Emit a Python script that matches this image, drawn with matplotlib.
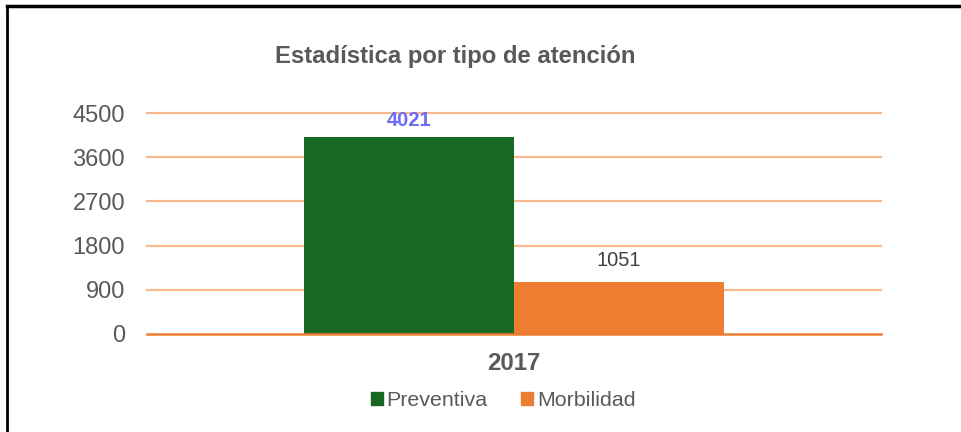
import matplotlib
matplotlib.use("Agg")
import matplotlib.pyplot as plt
from matplotlib.patches import Rectangle
from matplotlib.lines import Line2D

plt.rcParams['font.family'] = ['Liberation Sans', 'DejaVu Sans']

title = "Estadística por tipo de atención"
category = "2017"
series = ["Preventiva", "Morbilidad"]
values = [4021, 1051]
colors = ["#176921", "#ED7D31"]
yticks = [0, 900, 1800, 2700, 3600, 4500]

W, H = 962, 432
fig = plt.figure(figsize=(W / 100, H / 100), dpi=100)
ax = fig.add_axes([147 / W, 1 - 334 / H, (881 - 147) / W, (334 - 113) / H])

gray = "#595959"
bw = 0.2855
offsets = [-bw / 2, bw / 2]
ax.bar(offsets, values, width=bw, color=colors, zorder=3)
ax.set_xlim(-0.5, 0.5)
ax.set_ylim(0, 4500)
ax.set_yticks(yticks)
ax.set_yticklabels([str(v) for v in yticks], fontsize=17, color=gray)
ax.tick_params(axis='y', length=0, pad=15.8)
ax.set_xticks([0])
ax.set_xticklabels([category], fontsize=17.3, fontweight='bold', color=gray)
ax.tick_params(axis='x', length=0, pad=13)
for s in ax.spines.values():
    s.set_visible(False)
for v in yticks[1:]:
    ax.axhline(v, color="#F8B98C", lw=1.6, zorder=1, clip_on=False)
ax.axhline(0, color="#ED7D31", lw=1.8, zorder=4, clip_on=False)

ax.annotate(str(values[0]), (offsets[0], values[0]), xytext=(0, 11.2),
            textcoords='offset points', ha='center', va='center',
            fontsize=14.5, fontweight='bold', color="#6B6BF5", zorder=5)
ax.annotate(str(values[1]), (offsets[1], values[1]), xytext=(0, 16),
            textcoords='offset points', ha='center', va='center',
            fontsize=14.5, color="#404040", zorder=5)

fig.text(455 / W, 1 - 57 / H, title, ha='center', va='center', fontsize=17.2,
         fontweight='bold', color=gray)

handles = [Rectangle((0, 0), 1, 1, color=c) for c in colors]
leg = fig.legend(handles, series, loc='center', bbox_to_anchor=(503 / W, 1 - 401 / H),
                 ncol=2, frameon=False, fontsize=15.4, handlelength=0.56, handleheight=0.56,
                 handletextpad=0.19, columnspacing=1.54, borderpad=0, borderaxespad=0)
for t in leg.get_texts():
    t.set_color(gray)

# chart frame (top and left visible)
fig.add_artist(Line2D([7 / W, 7 / W], [0, 1 - 6 / H], transform=fig.transFigure, color='black', lw=2))
fig.add_artist(Line2D([7 / W, 1], [1 - 6 / H, 1 - 6 / H], transform=fig.transFigure, color='black', lw=2.5))

fig.savefig("out.png", dpi=100)
